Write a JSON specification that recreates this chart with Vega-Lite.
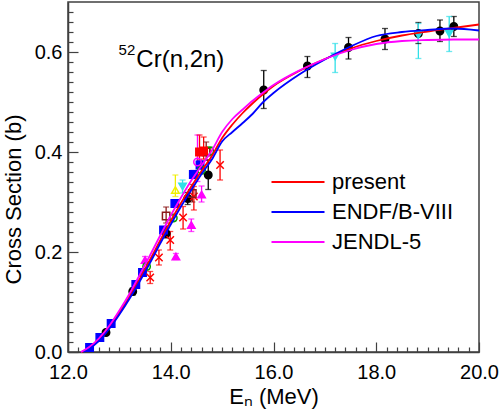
{
  "$schema": "https://vega.github.io/schema/vega-lite/v6.json",
  "width": 411,
  "height": 350,
  "autosize": {"type": "none"},
  "padding": {"left": 68, "top": 2, "right": 21, "bottom": 60},
  "background": "white",
  "config": {
    "font": "Liberation Sans",
    "view": {"stroke": "#404040", "strokeWidth": 1.5},
    "axis": {"grid": false, "domainColor": "#404040", "domainWidth": 1.5, "tickColor": "#404040", "tickWidth": 1.2, "labelColor": "#000", "titleColor": "#000", "labelFont": "Liberation Sans", "titleFont": "Liberation Sans", "titleFontWeight": "normal"}
  },
  "datasets": {
    "curves": [
      {"model": "present", "E": 12.27, "s": 0.0},
      {"model": "present", "E": 12.4, "s": 0.008},
      {"model": "present", "E": 12.6, "s": 0.025},
      {"model": "present", "E": 12.8, "s": 0.049},
      {"model": "present", "E": 13.0, "s": 0.079},
      {"model": "present", "E": 13.2, "s": 0.111},
      {"model": "present", "E": 13.4, "s": 0.147},
      {"model": "present", "E": 13.6, "s": 0.185},
      {"model": "present", "E": 13.8, "s": 0.224},
      {"model": "present", "E": 14.0, "s": 0.262},
      {"model": "present", "E": 14.2, "s": 0.298},
      {"model": "present", "E": 14.4, "s": 0.331},
      {"model": "present", "E": 14.6, "s": 0.362},
      {"model": "present", "E": 14.8, "s": 0.392},
      {"model": "present", "E": 15.0, "s": 0.428},
      {"model": "present", "E": 15.2, "s": 0.455},
      {"model": "present", "E": 15.4, "s": 0.478},
      {"model": "present", "E": 15.6, "s": 0.498},
      {"model": "present", "E": 15.8, "s": 0.516},
      {"model": "present", "E": 16.0, "s": 0.532},
      {"model": "present", "E": 16.5, "s": 0.562},
      {"model": "present", "E": 17.0, "s": 0.586},
      {"model": "present", "E": 17.5, "s": 0.607},
      {"model": "present", "E": 18.0, "s": 0.622},
      {"model": "present", "E": 18.5, "s": 0.633},
      {"model": "present", "E": 19.0, "s": 0.641},
      {"model": "present", "E": 19.5, "s": 0.648},
      {"model": "present", "E": 20.0, "s": 0.655},
      {"model": "ENDF/B-VIII", "E": 12.3, "s": 0.0},
      {"model": "ENDF/B-VIII", "E": 12.4, "s": 0.006},
      {"model": "ENDF/B-VIII", "E": 12.6, "s": 0.022},
      {"model": "ENDF/B-VIII", "E": 12.8, "s": 0.046},
      {"model": "ENDF/B-VIII", "E": 13.0, "s": 0.075},
      {"model": "ENDF/B-VIII", "E": 13.2, "s": 0.107},
      {"model": "ENDF/B-VIII", "E": 13.4, "s": 0.142},
      {"model": "ENDF/B-VIII", "E": 13.6, "s": 0.179},
      {"model": "ENDF/B-VIII", "E": 13.8, "s": 0.218},
      {"model": "ENDF/B-VIII", "E": 14.0, "s": 0.255},
      {"model": "ENDF/B-VIII", "E": 14.2, "s": 0.291},
      {"model": "ENDF/B-VIII", "E": 14.4, "s": 0.324},
      {"model": "ENDF/B-VIII", "E": 14.6, "s": 0.356},
      {"model": "ENDF/B-VIII", "E": 14.8, "s": 0.385},
      {"model": "ENDF/B-VIII", "E": 15.0, "s": 0.421},
      {"model": "ENDF/B-VIII", "E": 15.2, "s": 0.44},
      {"model": "ENDF/B-VIII", "E": 15.4, "s": 0.458},
      {"model": "ENDF/B-VIII", "E": 15.6, "s": 0.477},
      {"model": "ENDF/B-VIII", "E": 15.8, "s": 0.5},
      {"model": "ENDF/B-VIII", "E": 16.0, "s": 0.518},
      {"model": "ENDF/B-VIII", "E": 16.5, "s": 0.555},
      {"model": "ENDF/B-VIII", "E": 17.0, "s": 0.585},
      {"model": "ENDF/B-VIII", "E": 17.5, "s": 0.611},
      {"model": "ENDF/B-VIII", "E": 18.0, "s": 0.632},
      {"model": "ENDF/B-VIII", "E": 18.5, "s": 0.64},
      {"model": "ENDF/B-VIII", "E": 19.0, "s": 0.644},
      {"model": "ENDF/B-VIII", "E": 19.5, "s": 0.647},
      {"model": "ENDF/B-VIII", "E": 20.0, "s": 0.643},
      {"model": "JENDL-5", "E": 12.25, "s": 0.0},
      {"model": "JENDL-5", "E": 12.4, "s": 0.009},
      {"model": "JENDL-5", "E": 12.6, "s": 0.027},
      {"model": "JENDL-5", "E": 12.8, "s": 0.052},
      {"model": "JENDL-5", "E": 13.0, "s": 0.083},
      {"model": "JENDL-5", "E": 13.2, "s": 0.117},
      {"model": "JENDL-5", "E": 13.4, "s": 0.155},
      {"model": "JENDL-5", "E": 13.6, "s": 0.194},
      {"model": "JENDL-5", "E": 13.8, "s": 0.234},
      {"model": "JENDL-5", "E": 14.0, "s": 0.273},
      {"model": "JENDL-5", "E": 14.2, "s": 0.309},
      {"model": "JENDL-5", "E": 14.4, "s": 0.343},
      {"model": "JENDL-5", "E": 14.6, "s": 0.373},
      {"model": "JENDL-5", "E": 14.8, "s": 0.403},
      {"model": "JENDL-5", "E": 15.0, "s": 0.44},
      {"model": "JENDL-5", "E": 15.2, "s": 0.466},
      {"model": "JENDL-5", "E": 15.4, "s": 0.485},
      {"model": "JENDL-5", "E": 15.6, "s": 0.503},
      {"model": "JENDL-5", "E": 15.8, "s": 0.519},
      {"model": "JENDL-5", "E": 16.0, "s": 0.534},
      {"model": "JENDL-5", "E": 16.5, "s": 0.563},
      {"model": "JENDL-5", "E": 17.0, "s": 0.586},
      {"model": "JENDL-5", "E": 17.5, "s": 0.604},
      {"model": "JENDL-5", "E": 18.0, "s": 0.616},
      {"model": "JENDL-5", "E": 18.5, "s": 0.622},
      {"model": "JENDL-5", "E": 19.0, "s": 0.624},
      {"model": "JENDL-5", "E": 19.5, "s": 0.625},
      {"model": "JENDL-5", "E": 20.0, "s": 0.625}
    ],
    "exp": [
      {"set": "a", "E": 12.74, "s": 0.039, "lo": 0.034, "hi": 0.044},
      {"set": "a", "E": 13.26, "s": 0.121, "lo": 0.114, "hi": 0.128},
      {"set": "a", "E": 13.91, "s": 0.237, "lo": 0.228, "hi": 0.246},
      {"set": "a", "E": 14.33, "s": 0.307, "lo": 0.295, "hi": 0.319},
      {"set": "a", "E": 14.73, "s": 0.354, "lo": 0.325, "hi": 0.384},
      {"set": "a", "E": 15.81, "s": 0.524, "lo": 0.487, "hi": 0.563},
      {"set": "a", "E": 16.66, "s": 0.572, "lo": 0.549, "hi": 0.591},
      {"set": "a", "E": 17.46, "s": 0.609, "lo": 0.586, "hi": 0.629},
      {"set": "a", "E": 18.17, "s": 0.626, "lo": 0.605, "hi": 0.647},
      {"set": "a", "E": 18.82, "s": 0.637, "lo": 0.617, "hi": 0.659},
      {"set": "a", "E": 19.24, "s": 0.642, "lo": 0.621, "hi": 0.664},
      {"set": "a", "E": 19.51, "s": 0.651, "lo": 0.631, "hi": 0.671},
      {"set": "b", "E": 12.42, "s": 0.009, "lo": 0.005, "hi": 0.013},
      {"set": "b", "E": 12.62, "s": 0.029, "lo": 0.025, "hi": 0.033},
      {"set": "b", "E": 12.84, "s": 0.057, "lo": 0.052, "hi": 0.062},
      {"set": "b", "E": 13.32, "s": 0.135, "lo": 0.13, "hi": 0.14},
      {"set": "b", "E": 13.45, "s": 0.159, "lo": 0.153, "hi": 0.165},
      {"set": "b", "E": 13.86, "s": 0.244, "lo": 0.238, "hi": 0.25},
      {"set": "b", "E": 14.08, "s": 0.297, "lo": 0.29, "hi": 0.304},
      {"set": "b", "E": 14.44, "s": 0.355, "lo": 0.347, "hi": 0.363},
      {"set": "b", "E": 14.57, "s": 0.374, "lo": 0.366, "hi": 0.382},
      {"set": "c", "E": 13.6, "s": 0.149, "lo": 0.137, "hi": 0.161},
      {"set": "c", "E": 13.77, "s": 0.189, "lo": 0.174, "hi": 0.204},
      {"set": "c", "E": 13.99, "s": 0.224, "lo": 0.204, "hi": 0.241},
      {"set": "c", "E": 14.24, "s": 0.269, "lo": 0.246, "hi": 0.291},
      {"set": "c", "E": 14.45, "s": 0.311, "lo": 0.284, "hi": 0.331},
      {"set": "c", "E": 14.96, "s": 0.374, "lo": 0.344, "hi": 0.404},
      {"set": "d", "E": 13.5, "s": 0.184, "lo": 0.177, "hi": 0.191},
      {"set": "d", "E": 14.1, "s": 0.191, "lo": 0.185, "hi": 0.197},
      {"set": "d", "E": 14.4, "s": 0.254, "lo": 0.241, "hi": 0.266},
      {"set": "d", "E": 14.6, "s": 0.315, "lo": 0.3, "hi": 0.332},
      {"set": "e", "E": 14.52, "s": 0.38, "lo": 0.341, "hi": 0.434},
      {"set": "f", "E": 13.91, "s": 0.272, "lo": 0.258, "hi": 0.29},
      {"set": "f", "E": 14.42, "s": 0.317, "lo": 0.3, "hi": 0.335},
      {"set": "f", "E": 14.69, "s": 0.4, "lo": 0.384, "hi": 0.42},
      {"set": "g", "E": 13.53, "s": 0.171, "lo": 0.165, "hi": 0.177},
      {"set": "g", "E": 14.05, "s": 0.268, "lo": 0.262, "hi": 0.274},
      {"set": "g", "E": 14.6, "s": 0.364, "lo": 0.356, "hi": 0.372},
      {"set": "g", "E": 14.76, "s": 0.402, "lo": 0.394, "hi": 0.41},
      {"set": "h", "E": 14.09, "s": 0.324, "lo": 0.311, "hi": 0.354},
      {"set": "i", "E": 14.23, "s": 0.331, "lo": 0.318, "hi": 0.344},
      {"set": "i", "E": 17.2, "s": 0.591, "lo": 0.559, "hi": 0.617},
      {"set": "i", "E": 18.82, "s": 0.634, "lo": 0.587, "hi": 0.657},
      {"set": "i", "E": 19.42, "s": 0.637, "lo": 0.601, "hi": 0.671},
      {"set": "j", "E": 14.56, "s": 0.4, "lo": 0.384, "hi": 0.434},
      {"set": "j", "E": 14.64, "s": 0.402, "lo": 0.386, "hi": 0.43}
    ]
  },
  "resolve": {"axis": {"x": "independent", "y": "independent"}, "scale": {"color": "independent"}},
  "layer": [
    {
      "data": {"name": "exp"},
      "mark": {"type": "rule", "strokeWidth": 1.3},
      "encoding": {
        "x": {"field": "E", "type": "quantitative", "scale": {"domain": [12, 20], "nice": false, "zero": false},
          "axis": {"values": [12.2,12.4,12.6,12.8,13,13.2,13.4,13.6,13.8,14.2,14.4,14.6,14.8,15,15.2,15.4,15.6,15.8,16.2,16.4,16.6,16.8,17,17.2,17.4,17.6,17.8,18.2,18.4,18.6,18.8,19,19.2,19.4,19.6,19.8], "orient": "bottom", "tickSize": -5, "labels": false, "domain": false, "title": null}},
        "y": {"field": "lo", "type": "quantitative", "scale": {"domain": [0, 0.7], "nice": false},
          "axis": {"values": [0.02,0.04,0.06,0.08,0.1,0.12,0.14,0.16,0.18,0.22,0.24,0.26,0.28,0.3,0.32,0.34,0.36,0.38,0.42,0.44,0.46,0.48,0.5,0.52,0.54,0.56,0.58,0.62,0.64,0.66,0.68], "orient": "left", "tickSize": -5, "labels": false, "domain": false, "title": null}},
        "y2": {"field": "hi"},
        "stroke": {"field": "set", "type": "nominal", "legend": null,
          "scale": {"domain": ["a","b","c","d","e","f","g","h","i","j"], "range": ["#000000","#0000ff","#ff0000","#ff00ff","#ff00ff","#8b1a1a","#00a000","#f0f000","#30e0e8","#ff0000"]}}
      }
    },
    {
      "data": {"name": "exp"},
      "mark": {"type": "tick", "orient": "horizontal", "size": 6, "thickness": 1.3},
      "encoding": {
        "x": {"field": "E", "type": "quantitative", "axis": null},
        "y": {"field": "lo", "type": "quantitative", "axis": null},
        "color": {"field": "set", "type": "nominal", "legend": null,
          "scale": {"domain": ["a","b","c","d","e","f","g","h","i","j"], "range": ["#000000","#0000ff","#ff0000","#ff00ff","#ff00ff","#8b1a1a","#00a000","#f0f000","#30e0e8","#ff0000"]}}
      }
    },
    {
      "data": {"name": "exp"},
      "mark": {"type": "tick", "orient": "horizontal", "size": 6, "thickness": 1.3},
      "encoding": {
        "x": {"field": "E", "type": "quantitative", "axis": null},
        "y": {"field": "hi", "type": "quantitative", "axis": null},
        "color": {"field": "set", "type": "nominal", "legend": null,
          "scale": {"domain": ["a","b","c","d","e","f","g","h","i","j"], "range": ["#000000","#0000ff","#ff0000","#ff00ff","#ff00ff","#8b1a1a","#00a000","#f0f000","#30e0e8","#ff0000"]}}
      }
    },
    {
      "data": {"name": "exp"},
      "mark": {"type": "point", "size": 55, "strokeWidth": 1.5, "opacity": 1},
      "encoding": {
        "x": {"field": "E", "type": "quantitative", "axis": null},
        "y": {"field": "s", "type": "quantitative", "axis": null},
        "stroke": {"field": "set", "type": "nominal", "legend": null},
        "fill": {"field": "set", "type": "nominal", "legend": null,
          "scale": {"domain": ["a","b","c","d","e","f","g","h","i","j"], "range": ["#000000","#0000ff","transparent","#ff00ff","transparent","transparent","transparent","transparent","#30e0e8","#ff0000"]}},
        "shape": {"field": "set", "type": "nominal", "legend": null,
          "scale": {"domain": ["a","b","c","d","e","f","g","h","i","j"], "range": ["circle","square","M-1,-1L1,1M-1,1L1,-1","triangle-up","circle","square","circle","triangle-up","triangle-down","square"]}}
      }
    },
    {
      "data": {"name": "curves"},
      "mark": {"type": "line", "strokeWidth": 1.8, "interpolate": "monotone"},
      "encoding": {
        "x": {"field": "E", "type": "quantitative",
          "axis": {"orient": "bottom", "values": [12, 14, 16, 18, 20], "format": ".1f", "tickSize": -10, "labelPadding": 20, "labelFontSize": 20, "title": "Eₙ (MeV)", "titleFontSize": 22, "titleY": 51, "titleBaseline": "alphabetic", "labelFlush": false, "labelOverlap": false}},
        "y": {"field": "s", "type": "quantitative",
          "axis": {"orient": "left", "values": [0, 0.2, 0.4, 0.6], "format": ".1f", "tickSize": -10, "labelPadding": 16, "labelFontSize": 20, "title": "Cross Section (b)", "titleFontSize": 22, "titleX": -48, "titleY": 197, "titleBaseline": "alphabetic", "titleAngle": -90, "labelFlush": false, "labelOverlap": false}},
        "color": {"field": "model", "type": "nominal", "sort": null,
          "scale": {"domain": ["present", "ENDF/B-VIII", "JENDL-5"], "range": ["#ff0000", "#0000ff", "#ff00ff"]},
          "legend": {"orient": "none", "legendX": 202, "legendY": 165, "title": null, "symbolType": "stroke", "symbolSize": 2809, "symbolStrokeWidth": 2.2, "labelFontSize": 22, "labelOffset": 6, "rowPadding": 0, "clipHeight": 30, "padding": 0, "labelFont": "Liberation Sans", "labelColor": "#000"}}
      }
    },
    {
      "data": {"values": [{"E": 13.31, "s": 0.595, "t": "52"}]},
      "mark": {"type": "text", "align": "right", "baseline": "alphabetic", "fontSize": 15, "font": "Liberation Sans", "color": "#000"},
      "encoding": {
        "x": {"field": "E", "type": "quantitative", "axis": null},
        "y": {"field": "s", "type": "quantitative", "axis": null},
        "text": {"field": "t"}
      }
    },
    {
      "data": {"values": [{"E": 13.33, "s": 0.571, "t": "Cr(n,2n)"}]},
      "mark": {"type": "text", "align": "left", "baseline": "alphabetic", "fontSize": 24, "font": "Liberation Sans", "color": "#000"},
      "encoding": {
        "x": {"field": "E", "type": "quantitative", "axis": null},
        "y": {"field": "s", "type": "quantitative", "axis": null},
        "text": {"field": "t"}
      }
    }
  ]
}
